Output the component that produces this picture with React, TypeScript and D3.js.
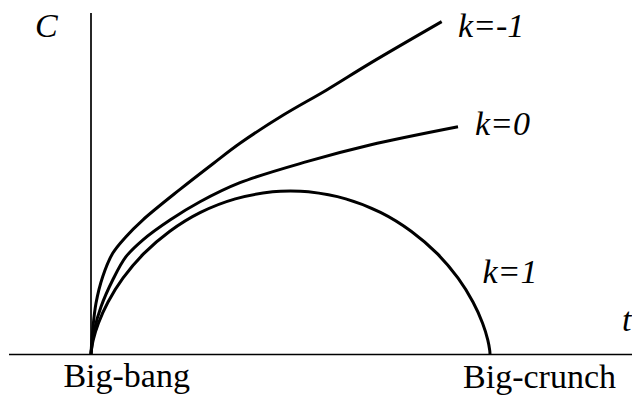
import React from "react";
import * as d3 from "d3";

const W = 632;
const H = 395;

// Closed universe (k=1): time t (0 = Big-bang, 1 = Big-crunch), scale C
const closedT = [0, 0.0007, 0.0056, 0.0186, 0.0427, 0.08, 0.1315, 0.1968, 0.2745, 0.3617, 0.455, 0.5, 0.545, 0.6383, 0.7255, 0.8032, 0.8685, 0.92, 0.9573, 0.9814, 0.9944, 0.9993, 1];
const closedC = [0, 0.022, 0.087, 0.189, 0.319, 0.465, 0.614, 0.752, 0.869, 0.952, 0.995, 1, 0.995, 0.952, 0.869, 0.752, 0.614, 0.465, 0.319, 0.189, 0.087, 0.022, 0];

// Flat universe (k=0)
const flatT = [0, 0.0083, 0.0251, 0.0544, 0.0877, 0.1296, 0.198, 0.2732, 0.3734, 0.5406, 0.6992, 0.9198];
const flatC = [0, 0.147, 0.29, 0.454, 0.597, 0.699, 0.822, 0.934, 1.051, 1.18, 1.282, 1.394];

// Open universe (k=-1)
const openT = [0, 0.0043, 0.0125, 0.0293, 0.0544, 0.0877, 0.1296, 0.2231, 0.3065, 0.3734, 0.482, 0.5907, 0.6992, 0.8789];
const openC = [0, 0.147, 0.311, 0.474, 0.618, 0.72, 0.822, 1.01, 1.169, 1.293, 1.466, 1.62, 1.783, 2.039];

const curveLabels = ["k=-1", "k=0", "k=1"];
const axisLabels = ["C", "t"];
const eventLabels = ["Big-bang", "Big-crunch"];

const FS = 34;
const ASC = 0.8375 * FS; // baseline offset inside a line box with line-height 1

export default function App() {
  const x = d3.scaleLinear().domain([0, 1]).range([91, 490]);
  const y = d3.scaleLinear().domain([0, 1]).range([354, 191]);

  const line = d3
    .line<[number, number]>()
    .x((d) => x(d[0]))
    .y((d) => y(d[1]))
    .curve(d3.curveCatmullRom.alpha(0.5));

  const zip = (a: number[], b: number[]) => a.map((v, i) => [v, b[i]] as [number, number]);

  const series = [zip(openT, openC), zip(flatT, flatC), zip(closedT, closedC)];

  const labels: { x: number; y: number; italic: boolean; middle: boolean; s: string }[] = [
    { x: 35, y: 37, italic: true, middle: false, s: axisLabels[0] },
    { x: 622, y: 331.5, italic: true, middle: false, s: axisLabels[1] },
    { x: 458, y: 37.5, italic: true, middle: false, s: curveLabels[0] },
    { x: 475, y: 135, italic: true, middle: false, s: curveLabels[1] },
    { x: 482.5, y: 283, italic: true, middle: false, s: curveLabels[2] },
    { x: 126.7, y: 387, italic: false, middle: true, s: eventLabels[0] },
    { x: 539.5, y: 388, italic: false, middle: true, s: eventLabels[1] },
  ];

  return (
    <div style={{ position: "absolute", left: 0, top: 0, width: W, height: H, overflow: "hidden", background: "#fff" }}>
      <svg width={W} height={H} style={{ position: "absolute", left: 0, top: 0 }}>
        <line x1={x(0)} x2={x(0)} y1={13} y2={354.5} stroke="#000" strokeWidth={1.7} />
        <line x1={9} x2={632} y1={354.5} y2={354.5} stroke="#000" strokeWidth={1.7} />
        {series.map((s, i) => (
          <path key={i} d={line(s) || ""} fill="none" stroke="#000" strokeWidth={3} strokeLinejoin="round" />
        ))}
      </svg>
      {labels.map((l, i) => (
        <div
          key={i}
          style={{
            position: "absolute",
            left: l.x,
            top: l.y - ASC,
            fontFamily: '"Liberation Serif", Tinos, "Nimbus Roman", FreeSerif',
            fontSize: FS,
            lineHeight: `${FS}px`,
            fontStyle: l.italic ? "italic" : "normal",
            whiteSpace: "nowrap",
            transform: l.middle ? "translateX(-50%)" : undefined,
            color: "#000",
          }}
        >
          {l.s}
        </div>
      ))}
    </div>
  );
}
